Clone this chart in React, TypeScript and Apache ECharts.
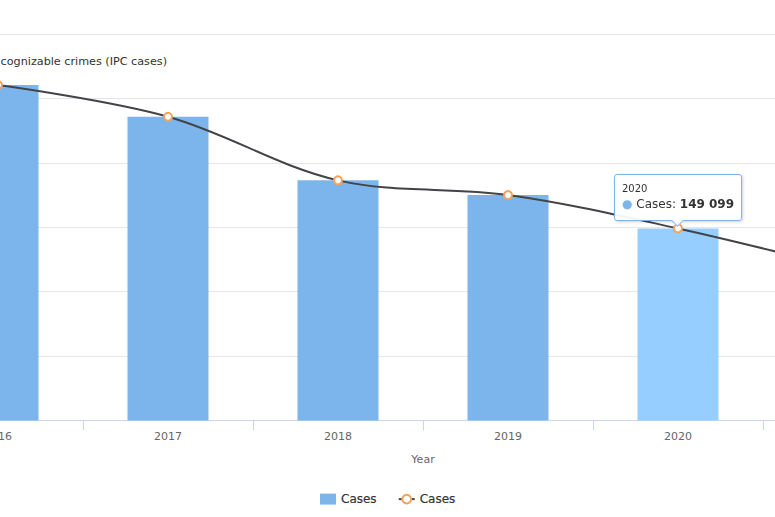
import React, { useEffect, useRef } from "react";
import * as echarts from "echarts";

const years = ["2016", "2017", "2018", "2019", "2020", "2021"];
const cases = [260400, 235800, 186400, 175000, 149099, 117000];
const yTicks = [0, 50000, 100000, 150000, 200000, 250000, 300000];
const barName = "Cases";
const lineName = "Cases (line)";
const axisTitle = "cognizable crimes (IPC cases)";
const xTitle = "Year";
const focusIndex = 4;

const FONT = "'DejaVu Sans', 'Noto Sans', sans-serif";
const SHIFT = 200; // chart canvas extends left of the visible page
const CHART_W = 1200;

export default function App() {
  const ref = useRef<HTMLDivElement>(null);
  useEffect(() => {
    if (!ref.current) return;
    const chart = echarts.init(ref.current, undefined, { renderer: "svg" });
    const fmt = (v: number) => String(v).replace(/\B(?=(\d{3})+(?!\d))/g, " ");
    chart.setOption({
      animation: false,
      textStyle: { fontFamily: FONT },
      grid: { left: SHIFT - 87, right: CHART_W - (SHIFT - 87) - 1020, top: 34, bottom: 96.5, containLabel: false },
      xAxis: {
        type: "category",
        data: years,
        boundaryGap: true,
        axisLine: { lineStyle: { color: "#ccd6eb", width: 1 } },
        axisTick: { show: true, length: 10, alignWithLabel: false, lineStyle: { color: "#ccd6eb" } },
        axisLabel: { color: "#666", fontSize: 11, margin: 10, fontFamily: FONT },
        name: xTitle,
        nameLocation: "middle",
        nameGap: 33,
        nameTextStyle: { color: "#666", fontSize: 11, fontFamily: FONT },
      },
      yAxis: {
        type: "value",
        min: yTicks[0],
        max: yTicks[yTicks.length - 1],
        interval: yTicks[1] - yTicks[0],
        axisLabel: { show: false },
        axisLine: { show: false },
        axisTick: { show: false },
        splitLine: { lineStyle: { color: "#e6e6e6", width: 1 } },
      },
      legend: {
        left: SHIFT + 315,
        top: 488,
        itemWidth: 16,
        itemHeight: 11,
        itemGap: 21,
        formatter: () => barName,
        textStyle: {
          color: "#333",
          fontSize: 12,
          fontFamily: FONT,
          textBorderColor: "#333",
          textBorderWidth: 0.2,
        },
        data: [{ name: barName, icon: "rect" }, { name: lineName }],
      },
      tooltip: {
        trigger: "item",
        triggerOn: "none",
        alwaysShowContent: true,
        transitionDuration: 0,
        position: (pt: any, params: any, dom: any, rect: any, size: any) => {
          const p = chart.convertToPixel({ seriesIndex: 0 }, [params.dataIndex, params.value]) as number[];
          return [p[0] - size.contentSize[0] / 2, p[1] - size.contentSize[1] - 7];
        },
        backgroundColor: "rgba(255,255,255,0.94)",
        borderColor: "#7cb5ec",
        borderWidth: 1,
        borderRadius: 3,
        padding: [7, 7],
        extraCssText: "box-shadow: 1px 1px 3px rgba(0,0,0,0.18); overflow: visible;",
        formatter: (p: any) =>
          `<div style="font-family:${FONT};color:#333;white-space:nowrap">` +
          `<div style="font-size:10px;line-height:13px">${p.name}</div>` +
          `<div style="font-size:12px;line-height:18px"><span style="color:#7cb5ec">\u25CF</span> ${p.seriesName}: <b style="font-weight:bold">${fmt(p.value)}</b></div>` +
          `</div>` +
          `<div style="position:absolute;left:50%;bottom:-5px;width:8px;height:8px;margin-left:-5px;background:#fff;border-right:1px solid #7cb5ec;border-bottom:1px solid #7cb5ec;transform:rotate(45deg)"></div>`,
      },
      series: [
        {
          name: barName,
          type: "bar",
          data: cases,
          barWidth: 81,
          itemStyle: { color: "#7cb5ec" },
          emphasis: { itemStyle: { color: "#96cfff" } },
          z: 2,
        },
        {
          name: lineName,
          type: "line",
          data: cases,
          smooth: 0.35,
          symbol: "circle",
          symbolSize: 8,
          lineStyle: { color: "#434348", width: 2 },
          itemStyle: { color: "#ffffff", borderColor: "#f7a35c", borderWidth: 2 },
          emphasis: { disabled: true },
          z: 3,
        },
      ],
      graphic: [
        {
          type: "text",
          x: SHIFT + 167,
          y: 61,
          style: {
            text: axisTitle,
            fill: "#333",
            fontSize: 11.2,
            fontFamily: FONT,
            textAlign: "right",
            textVerticalAlign: "middle",
          },
        },
      ],
    });
    chart.dispatchAction({ type: "highlight", seriesIndex: 0, dataIndex: focusIndex });
    chart.dispatchAction({ type: "showTip", seriesIndex: 0, dataIndex: focusIndex });
    return () => chart.dispose();
  }, []);
  return (
    <div style={{ position: "fixed", left: 0, top: 0, width: 775, height: 517, overflow: "hidden", background: "#fff" }}>
      <div ref={ref} style={{ position: "absolute", left: -SHIFT, top: 0, width: CHART_W, height: 517 }} />
    </div>
  );
}
